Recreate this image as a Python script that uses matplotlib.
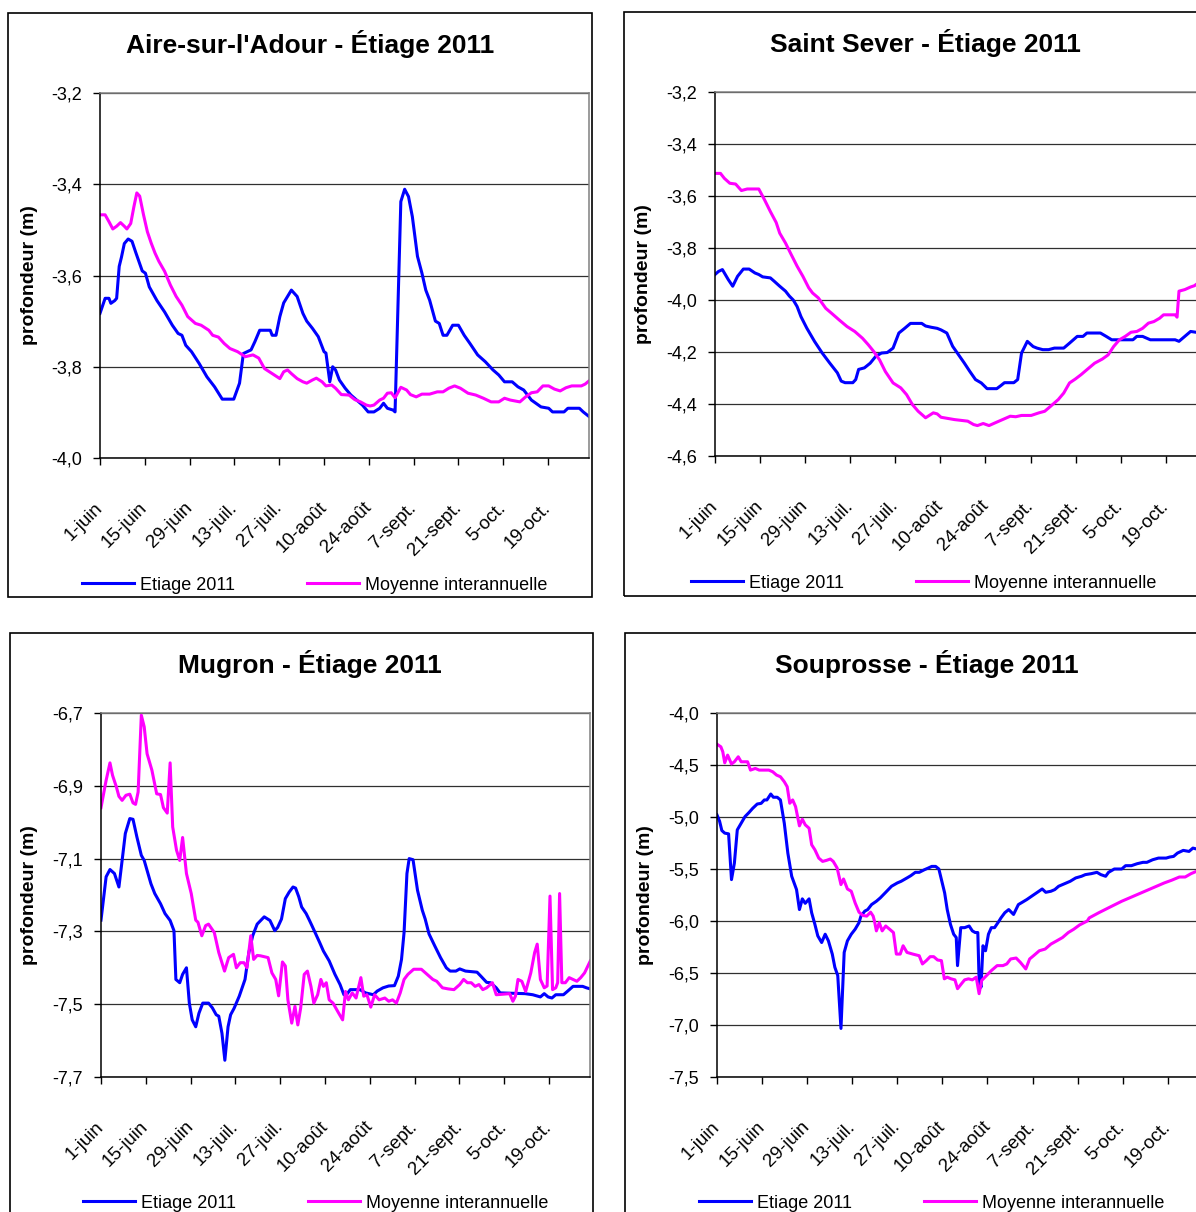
# Niveaux de nappe - étiage 2011, 4 piézomètres (style Excel)
import matplotlib
matplotlib.use('Agg')
import matplotlib.pyplot as plt
import matplotlib.transforms as mtransforms
from matplotlib.patches import Rectangle

plt.rcParams['font.family'] = ['Liberation Sans', 'DejaVu Sans']

# axe des x : jours depuis le 1er juin
tick_days = [0, 14, 28, 42, 56, 70, 84, 98, 112, 126, 140]
tick_labels = ['1-juin', '15-juin', '29-juin', '13-juil.', '27-juil.', '10-août',
               '24-août', '7-sept.', '21-sept.', '5-oct.', '19-oct.']

# --- Aire-sur-l'Adour ---
aire_ticks = [-4.0, -3.8, -3.6, -3.4, -3.2]
aire_ticklabels = ['-4,0', '-3,8', '-3,6', '-3,4', '-3,2']
aire_etiage = [(0, -3.683), (1.6, -3.65), (2.8, -3.65), (3.4, -3.661), (4.6, -3.655), (5.2, -3.65),
               (6.0, -3.58), (6.7, -3.56), (7.6, -3.53), (8.8, -3.52), (10.0, -3.525), (11.2, -3.55),
               (13.2, -3.59), (14.2, -3.595), (15.4, -3.625), (16.6, -3.64), (17.8, -3.655), (20.2, -3.68),
               (22.6, -3.709), (24.4, -3.727), (25.6, -3.731), (26.8, -3.753), (28.6, -3.767), (31.0, -3.793),
               (33.4, -3.822), (35.8, -3.844), (38.2, -3.871), (41.8, -3.871), (43.6, -3.836), (44.8, -3.771),
               (47.2, -3.763), (48.4, -3.745), (49.9, -3.72), (53.2, -3.72), (53.8, -3.731), (55.0, -3.731),
               (56.2, -3.69), (57.4, -3.66), (59.8, -3.632), (61.6, -3.646), (63.4, -3.683), (64.6, -3.70),
               (66.4, -3.716), (68.2, -3.734), (70.0, -3.767), (70.6, -3.77), (71.8, -3.833), (72.7, -3.80),
               (73.6, -3.807), (74.8, -3.829), (76.6, -3.847), (78.4, -3.862), (80.2, -3.873), (82.0, -3.884),
               (83.8, -3.899), (85.6, -3.899), (87.4, -3.891), (88.6, -3.88), (89.8, -3.891), (91.6, -3.895),
               (92.2, -3.899), (94.0, -3.438), (95.2, -3.411), (96.4, -3.427), (97.6, -3.471), (99.2, -3.558),
               (100.6, -3.595), (101.8, -3.632), (103.0, -3.654), (104.8, -3.70), (106.0, -3.705),
               (107.2, -3.731), (108.4, -3.731), (110.2, -3.709), (112.0, -3.709), (113.8, -3.731),
               (115.6, -3.749), (118.0, -3.774), (120.4, -3.789), (122.8, -3.807), (124.6, -3.818),
               (126.4, -3.833), (128.8, -3.833), (130.6, -3.844), (132.4, -3.851), (134.8, -3.873),
               (137.8, -3.888), (140.2, -3.891), (141.4, -3.899), (145.0, -3.899), (146.2, -3.891),
               (149.8, -3.891), (151.0, -3.899), (152.8, -3.909)]
aire_moyenne = [(0, -3.467), (1.6, -3.467), (2.8, -3.482), (4.0, -3.498), (5.2, -3.492), (6.4, -3.484),
                (7.6, -3.492), (8.4, -3.498), (9.6, -3.486), (10.6, -3.449), (11.5, -3.419), (12.4, -3.426),
                (13.6, -3.467), (14.8, -3.504), (16.0, -3.529), (17.2, -3.551), (18.4, -3.569), (20.2, -3.591),
                (22.0, -3.621), (23.8, -3.646), (25.6, -3.665), (27.4, -3.69), (29.8, -3.705), (31.6, -3.709),
                (34.0, -3.72), (35.2, -3.731), (37.0, -3.735), (38.8, -3.749), (40.6, -3.76), (43.0, -3.767),
                (45.4, -3.778), (47.8, -3.774), (49.6, -3.781), (51.4, -3.804), (53.8, -3.815), (56.2, -3.826),
                (57.4, -3.811), (58.6, -3.807), (59.8, -3.815), (61.6, -3.826), (63.4, -3.833), (64.6, -3.836),
                (66.4, -3.829), (67.6, -3.825), (69.4, -3.833), (70.6, -3.842), (72.4, -3.84), (73.6, -3.847),
                (75.4, -3.861), (77.8, -3.862), (79.6, -3.872), (81.4, -3.877), (83.2, -3.884), (84.4, -3.886),
                (85.6, -3.884), (87.4, -3.873), (88.6, -3.869), (89.8, -3.858), (91.0, -3.857), (92.2, -3.868),
                (94.0, -3.845), (95.8, -3.851), (97.0, -3.861), (98.8, -3.866), (100.6, -3.86), (103.0, -3.86),
                (105.4, -3.855), (107.2, -3.855), (109.0, -3.847), (110.8, -3.842), (112.6, -3.847),
                (115.0, -3.858), (117.4, -3.862), (119.8, -3.869), (122.2, -3.877), (124.6, -3.877),
                (126.4, -3.869), (128.2, -3.873), (131.2, -3.877), (133.0, -3.866), (134.8, -3.857),
                (136.6, -3.855), (138.4, -3.842), (140.2, -3.842), (142.0, -3.849), (143.8, -3.853),
                (145.6, -3.846), (147.4, -3.842), (150.4, -3.842), (151.6, -3.838), (152.8, -3.831)]

# --- Saint Sever ---
sever_ticks = [-4.6, -4.4, -4.2, -4.0, -3.8, -3.6, -3.4, -3.2]
sever_ticklabels = ['-4,6', '-4,4', '-4,2', '-4,0', '-3,8', '-3,6', '-3,4', '-3,2']
sever_etiage = [(0, -3.902), (1.1, -3.89), (2.3, -3.883), (4.1, -3.921), (5.5, -3.947), (7.0, -3.909),
                (8.8, -3.881), (10.6, -3.881), (12.4, -3.896), (13.6, -3.902), (14.8, -3.911), (17.2, -3.915),
                (18.4, -3.928), (20.1, -3.947), (21.9, -3.966), (23.1, -3.985), (24.3, -4.0), (25.5, -4.025),
                (26.7, -4.064), (28.5, -4.108), (30.9, -4.159), (33.3, -4.204), (35.6, -4.242), (38.0, -4.28),
                (39.2, -4.312), (40.4, -4.318), (42.8, -4.318), (43.7, -4.306), (44.6, -4.267), (46.4, -4.261),
                (48.2, -4.243), (49.9, -4.217), (51.7, -4.204), (53.5, -4.202), (55.3, -4.185), (57.1, -4.127),
                (58.9, -4.109), (60.7, -4.09), (64.2, -4.09), (65.4, -4.1), (67.2, -4.105), (69.0, -4.109),
                (70.2, -4.115), (72.0, -4.127), (73.8, -4.178), (75.6, -4.21), (77.4, -4.242), (79.1, -4.274),
                (80.9, -4.306), (82.7, -4.319), (84.5, -4.341), (87.5, -4.341), (88.7, -4.33), (89.9, -4.318),
                (92.8, -4.318), (94.0, -4.306), (95.2, -4.204), (97.0, -4.159), (98.8, -4.179), (100.0, -4.185),
                (101.8, -4.191), (103.6, -4.191), (105.4, -4.185), (108.3, -4.185), (110.1, -4.166),
                (112.5, -4.14), (114.3, -4.14), (115.5, -4.127), (119.7, -4.127), (121.5, -4.14),
                (123.2, -4.153), (129.8, -4.153), (131.0, -4.14), (132.8, -4.14), (135.2, -4.153),
                (142.9, -4.153), (144.1, -4.159), (145.9, -4.14), (147.7, -4.121), (151.0, -4.127)]
sever_moyenne = [(0, -3.513), (1.7, -3.513), (2.9, -3.532), (4.6, -3.551), (6.4, -3.554), (8.2, -3.579),
                 (10.0, -3.573), (13.6, -3.573), (15.4, -3.615), (17.2, -3.66), (19.0, -3.702), (20.1, -3.743),
                 (21.9, -3.781), (23.7, -3.826), (25.5, -3.87), (27.3, -3.909), (29.1, -3.953), (30.3, -3.973),
                 (32.1, -3.992), (34.4, -4.032), (36.2, -4.051), (38.6, -4.077), (41.0, -4.102), (43.4, -4.121),
                 (45.8, -4.147), (47.6, -4.172), (49.3, -4.198), (51.1, -4.23), (52.9, -4.275), (55.3, -4.319),
                 (57.7, -4.338), (59.5, -4.364), (61.3, -4.402), (63.1, -4.428), (65.4, -4.453), (67.8, -4.434),
                 (69.0, -4.438), (70.2, -4.451), (74.4, -4.46), (78.5, -4.466), (80.3, -4.479), (81.5, -4.483),
                 (83.3, -4.475), (85.1, -4.483), (86.9, -4.473), (89.3, -4.46), (91.7, -4.447), (93.4, -4.449),
                 (95.2, -4.444), (98.2, -4.444), (100.6, -4.434), (102.4, -4.428), (104.2, -4.409),
                 (106.6, -4.383), (108.3, -4.358), (110.1, -4.319), (111.9, -4.304), (113.7, -4.287),
                 (115.5, -4.268), (117.9, -4.243), (120.3, -4.227), (122.1, -4.211), (123.8, -4.179),
                 (125.6, -4.153), (127.4, -4.14), (129.2, -4.124), (131.0, -4.121), (132.8, -4.109),
                 (134.6, -4.089), (136.3, -4.083), (138.1, -4.07), (139.3, -4.057), (142.9, -4.057),
                 (143.5, -4.066), (144.1, -3.966), (145.9, -3.96), (147.7, -3.95), (148.9, -3.945),
                 (150.1, -3.934), (151.0, -3.93)]

# --- Mugron ---
mugron_ticks = [-7.7, -7.5, -7.3, -7.1, -6.9, -6.7]
mugron_ticklabels = ['-7,7', '-7,5', '-7,3', '-7,1', '-6,9', '-6,7']
mugron_etiage = [(0, -7.269), (1.6, -7.15), (2.8, -7.13), (4.2, -7.141), (5.6, -7.178), (6.6, -7.105),
                 (7.6, -7.031), (9.0, -6.99), (10.0, -6.992), (11.2, -7.04), (12.6, -7.091), (13.5, -7.105),
                 (15.6, -7.169), (16.8, -7.196), (18.6, -7.224), (20.0, -7.251), (21.6, -7.27), (22.8, -7.298),
                 (23.4, -7.432), (24.6, -7.441), (25.5, -7.418), (26.7, -7.4), (27.6, -7.497), (28.5, -7.543),
                 (29.6, -7.562), (30.6, -7.525), (31.8, -7.497), (33.6, -7.497), (34.8, -7.51), (36.0, -7.529),
                 (36.8, -7.533), (37.8, -7.58), (38.7, -7.654), (39.7, -7.562), (40.5, -7.529), (41.6, -7.511),
                 (43.2, -7.478), (45.0, -7.432), (46.2, -7.358), (47.4, -7.312), (48.8, -7.28), (51.0, -7.26),
                 (51.9, -7.265), (52.8, -7.27), (54.3, -7.298), (55.2, -7.289), (56.4, -7.266), (57.6, -7.21),
                 (58.8, -7.192), (60.0, -7.178), (60.8, -7.181), (61.8, -7.205), (62.7, -7.233), (64.1, -7.251),
                 (65.1, -7.269), (65.9, -7.284), (67.1, -7.307), (68.3, -7.33), (69.5, -7.354), (71.3, -7.381),
                 (73.1, -7.418), (74.7, -7.446), (75.9, -7.474), (76.7, -7.474), (77.9, -7.46), (80.9, -7.46),
                 (82.7, -7.469), (85.1, -7.474), (86.3, -7.464), (88.1, -7.455), (89.9, -7.45), (91.7, -7.449),
                 (92.9, -7.423), (93.9, -7.377), (94.7, -7.303), (95.6, -7.141), (96.3, -7.1), (97.5, -7.103),
                 (98.9, -7.187), (100.4, -7.242), (101.3, -7.266), (102.5, -7.307), (104.3, -7.34),
                 (106.1, -7.372), (107.9, -7.4), (109.1, -7.409), (110.9, -7.409), (112.1, -7.403),
                 (113.9, -7.409), (117.5, -7.412), (118.7, -7.423), (120.5, -7.44), (121.7, -7.441),
                 (123.5, -7.455), (124.7, -7.469), (132.5, -7.471), (134.9, -7.474), (137.3, -7.48),
                 (138.5, -7.471), (139.7, -7.48), (140.9, -7.483), (142.1, -7.474), (144.5, -7.474),
                 (145.7, -7.465), (147.5, -7.451), (150.5, -7.451), (151.7, -7.455), (152.9, -7.458)]
mugron_moyenne = [(0, -6.96), (1.6, -6.885), (2.8, -6.837), (3.6, -6.871), (4.8, -6.903), (5.6, -6.929),
                  (6.6, -6.94), (7.8, -6.926), (9.0, -6.923), (10.0, -6.947), (10.8, -6.951), (11.6, -6.917),
                  (12.6, -6.706), (13.5, -6.738), (14.4, -6.812), (15.9, -6.857), (17.4, -6.922), (18.6, -6.924),
                  (19.5, -6.96), (20.7, -6.975), (21.6, -6.837), (22.4, -7.013), (23.6, -7.077), (24.6, -7.105),
                  (25.5, -7.042), (26.7, -7.141), (28.2, -7.196), (29.6, -7.269), (30.3, -7.275), (31.5, -7.312),
                  (32.7, -7.284), (33.6, -7.28), (35.4, -7.303), (36.8, -7.358), (38.6, -7.409), (39.9, -7.372),
                  (41.4, -7.363), (42.3, -7.4), (43.5, -7.386), (44.7, -7.386), (45.6, -7.4), (46.8, -7.312),
                  (47.7, -7.377), (48.8, -7.366), (49.8, -7.367), (52.2, -7.372), (53.4, -7.414), (54.6, -7.432),
                  (55.5, -7.477), (56.7, -7.384), (57.6, -7.395), (58.4, -7.488), (59.6, -7.552), (60.6, -7.506),
                  (61.5, -7.557), (62.4, -7.51), (63.5, -7.418), (64.5, -7.409), (65.6, -7.451), (66.5, -7.497),
                  (67.7, -7.474), (68.7, -7.432), (69.5, -7.451), (70.4, -7.441), (71.3, -7.488), (72.5, -7.497),
                  (74.3, -7.525), (75.5, -7.543), (76.4, -7.465), (77.3, -7.488), (78.5, -7.469), (79.7, -7.483),
                  (80.3, -7.46), (81.2, -7.427), (82.1, -7.478), (83.1, -7.474), (84.3, -7.508), (85.5, -7.474),
                  (86.9, -7.488), (88.7, -7.483), (89.9, -7.492), (91.1, -7.488), (92.3, -7.497), (93.5, -7.469),
                  (94.7, -7.432), (95.9, -7.418), (97.7, -7.404), (100.1, -7.404), (101.9, -7.418),
                  (103.7, -7.432), (104.9, -7.437), (106.7, -7.455), (108.5, -7.458), (110.3, -7.46),
                  (112.1, -7.446), (113.3, -7.432), (114.5, -7.441), (115.7, -7.441), (116.9, -7.451),
                  (118.1, -7.446), (119.3, -7.46), (120.5, -7.455), (122.3, -7.441), (123.5, -7.474),
                  (127.7, -7.471), (128.7, -7.492), (129.5, -7.478), (130.3, -7.432), (131.5, -7.437),
                  (132.7, -7.465), (134.3, -7.414), (135.5, -7.358), (136.3, -7.335), (137.3, -7.432),
                  (138.5, -7.455), (139.4, -7.45), (140.3, -7.203), (141.1, -7.46), (142.1, -7.455),
                  (142.7, -7.441), (143.3, -7.196), (144.0, -7.441), (145.1, -7.441), (146.3, -7.427),
                  (147.5, -7.432), (148.7, -7.437), (149.9, -7.427), (151.1, -7.414), (152.9, -7.381)]

# --- Souprosse ---
soup_ticks = [-7.5, -7.0, -6.5, -6.0, -5.5, -5.0, -4.5, -4.0]
soup_ticklabels = ['-7,5', '-7,0', '-6,5', '-6,0', '-5,5', '-5,0', '-4,5', '-4,0']
soup_etiage = [(0, -4.98), (0.8, -5.04), (1.5, -5.13), (2.4, -5.155), (3.6, -5.162), (4.5, -5.602),
               (5.4, -5.443), (6.3, -5.124), (7.5, -5.06), (8.7, -4.996), (9.9, -4.958), (11.1, -4.916),
               (12.5, -4.875), (13.7, -4.869), (14.7, -4.836), (15.5, -4.836), (16.7, -4.779), (17.5, -4.81),
               (18.7, -4.81), (19.7, -4.836), (20.9, -5.06), (22.0, -5.347), (23.2, -5.57), (24.7, -5.698),
               (25.6, -5.89), (26.5, -5.787), (27.4, -5.83), (28.6, -5.787), (29.4, -5.921), (30.4, -6.032),
               (31.3, -6.143), (32.5, -6.207), (33.6, -6.127), (34.6, -6.191), (35.8, -6.318), (36.6, -6.445),
               (37.5, -6.524), (38.5, -7.033), (39.5, -6.302), (40.5, -6.191), (41.7, -6.127), (42.9, -6.079),
               (44.1, -6.016), (44.7, -5.953), (45.9, -5.905), (46.8, -5.89), (48.0, -5.842), (49.5, -5.81),
               (50.7, -5.778), (52.4, -5.724), (54.2, -5.666), (56.0, -5.634), (57.2, -5.618), (59.0, -5.586),
               (60.2, -5.564), (61.6, -5.532), (62.8, -5.532), (64.4, -5.507), (65.6, -5.491), (66.7, -5.475),
               (67.9, -5.475), (68.9, -5.5), (69.7, -5.602), (70.7, -5.73), (71.5, -5.89), (72.5, -6.032),
               (73.5, -6.127), (74.3, -6.159), (74.7, -6.429), (75.7, -6.064), (76.9, -6.064), (78.3, -6.048),
               (79.3, -6.095), (80.2, -6.111), (81.0, -6.111), (81.4, -6.572), (82.0, -6.636), (82.6, -6.238),
               (83.4, -6.286), (84.3, -6.127), (85.2, -6.064), (86.2, -6.064), (87.6, -6.0), (88.2, -5.97),
               (89.4, -5.92), (90.6, -5.89), (92.1, -5.937), (93.6, -5.842), (94.8, -5.82), (96.2, -5.794),
               (97.7, -5.762), (99.5, -5.724), (101.0, -5.692), (102.1, -5.724), (103.7, -5.714),
               (104.9, -5.698), (106.1, -5.666), (107.3, -5.65), (108.5, -5.634), (109.7, -5.618),
               (111.4, -5.586), (113.2, -5.57), (114.4, -5.554), (116.2, -5.545), (118.0, -5.532),
               (119.2, -5.554), (120.7, -5.57), (121.6, -5.532), (123.4, -5.5), (125.7, -5.5), (126.9, -5.468),
               (128.7, -5.468), (130.5, -5.449), (132.3, -5.436), (133.5, -5.436), (135.3, -5.411),
               (137.1, -5.395), (139.5, -5.395), (140.6, -5.385), (141.8, -5.379), (143.0, -5.347),
               (144.8, -5.321), (146.6, -5.331), (147.8, -5.299), (149.0, -5.308), (150.2, -5.331)]
soup_moyenne = [(0, -4.3), (1.2, -4.325), (1.8, -4.373), (2.4, -4.479), (3.3, -4.405), (4.5, -4.49),
                (5.4, -4.469), (6.6, -4.421), (7.5, -4.469), (9.5, -4.469), (10.4, -4.549), (11.9, -4.533),
                (13.1, -4.549), (16.1, -4.549), (17.3, -4.565), (18.5, -4.597), (19.7, -4.613), (20.9, -4.661),
                (21.8, -4.709), (22.6, -4.868), (23.5, -4.836), (24.4, -4.9), (25.6, -5.085), (26.5, -5.021),
                (27.4, -5.075), (28.6, -5.108), (29.4, -5.267), (30.4, -5.315), (31.6, -5.395), (32.8, -5.427),
                (34.0, -5.417), (35.2, -5.404), (36.1, -5.427), (37.3, -5.49), (38.5, -5.65), (39.3, -5.596),
                (40.5, -5.692), (41.7, -5.714), (42.9, -5.826), (44.1, -5.915), (45.3, -5.947), (46.5, -5.953),
                (47.7, -5.915), (48.5, -5.953), (48.9, -6.0), (49.5, -6.095), (50.4, -6.016), (51.3, -6.095),
                (52.4, -6.048), (53.6, -6.079), (54.8, -6.111), (55.7, -6.318), (56.9, -6.318), (57.8, -6.238),
                (59.0, -6.302), (60.8, -6.318), (62.8, -6.334), (63.8, -6.413), (65.0, -6.381), (66.2, -6.343),
                (67.3, -6.343), (68.5, -6.375), (69.7, -6.381), (70.6, -6.556), (71.5, -6.54), (72.7, -6.556),
                (73.9, -6.566), (74.7, -6.651), (75.9, -6.604), (76.9, -6.566), (78.1, -6.556), (79.3, -6.566),
                (80.5, -6.54), (81.4, -6.699), (82.2, -6.572), (83.4, -6.534), (85.2, -6.477), (87.0, -6.429),
                (88.8, -6.429), (90.0, -6.413), (91.2, -6.365), (92.9, -6.356), (94.2, -6.397), (95.9, -6.461),
                (97.1, -6.365), (98.3, -6.334), (100.1, -6.286), (101.9, -6.27), (103.7, -6.222),
                (105.5, -6.191), (107.3, -6.159), (109.1, -6.111), (110.8, -6.079), (112.6, -6.038),
                (115.0, -6.0), (115.6, -5.97), (118.6, -5.92), (122.2, -5.864), (125.7, -5.81), (129.3, -5.762),
                (132.9, -5.714), (136.5, -5.666), (138.9, -5.634), (141.2, -5.608), (143.6, -5.577),
                (145.4, -5.577), (147.2, -5.545), (149.6, -5.513)]

W, H = 1196, 1212
BLUE = '#0000FF'
MAGENTA = '#FF00FF'

fig = plt.figure(figsize=(W / 100, H / 100), dpi=100)


def fx(x):
    return x / W


def fy(y):
    return 1 - y / H


# (titre, x titre, y ligne de base, cadre, zone de tracé, y lim, ticks, labels, x label y, x legende, y legende, series)
panels = [
    ("Aire-sur-l'Adour - Étiage 2011", 310, 53, (8, 13, 592, 597), (100, 93, 589, 458),
     (-4.0, -3.2), aire_ticks, aire_ticklabels, 38, 82, 585, aire_etiage, aire_moyenne),
    ("Saint Sever - Étiage 2011", 925, 52, (624, 12, 1230, 596), (715, 92, 1207, 456),
     (-4.6, -3.2), sever_ticks, sever_ticklabels, 652, 691, 583, sever_etiage, sever_moyenne),
    ("Mugron - Étiage 2011", 310, 673, (10, 633, 593, 1240), (101, 713, 590, 1077),
     (-7.7, -6.7), mugron_ticks, mugron_ticklabels, 38, 83, 1203, mugron_etiage, mugron_moyenne),
    ("Souprosse - Étiage 2011", 927, 673, (625, 633, 1230, 1240), (717, 713, 1209, 1077),
     (-7.5, -4.0), soup_ticks, soup_ticklabels, 654, 699, 1203, soup_etiage, soup_moyenne),
]

# petit décalage à gauche des étiquettes de dates
shift = mtransforms.ScaledTranslation(-4 / 100, 0, fig.dpi_scale_trans)

for (title, tx, ty, box, area, ylim, yt, ytl, ylx, legx, legy, etiage, moyenne) in panels:
    # cadre du graphique
    bl, bt, br, bb = box
    fig.add_artist(Rectangle((fx(bl), fy(bb)), fx(br - bl), (bb - bt) / H,
                             transform=fig.transFigure, fill=False, ec='black', lw=1.2))
    fig.text(fx(tx), fy(ty), title, ha='center', va='baseline', fontsize=19, fontweight='bold')

    l, t, r, b = area
    ax = fig.add_axes([fx(l), fy(b), fx(r - l), (b - t) / H])
    ax.plot([p[0] for p in etiage], [p[1] for p in etiage], color=BLUE, lw=2.2, label='Etiage 2011')
    ax.plot([p[0] for p in moyenne], [p[1] for p in moyenne], color=MAGENTA, lw=2.2,
            label='Moyenne interannuelle')

    ax.set_xlim(0, 152.8)
    ax.set_ylim(*ylim)
    ax.set_yticks(yt)
    ax.set_yticklabels(ytl)
    ax.set_xticks(tick_days)
    ax.set_xticklabels(tick_labels, rotation=45, ha='right', va='center', rotation_mode='anchor')
    for lab in ax.get_xticklabels():
        lab.set_transform(lab.get_transform() + shift)
    ax.tick_params(axis='y', direction='out', length=5, width=1, pad=8, labelsize=13)
    ax.tick_params(axis='x', direction='out', length=5, width=1, pad=29, labelsize=13.5)
    ax.yaxis.grid(True, color='#303030', lw=0.9)
    ax.set_axisbelow(True)
    for s in ['left', 'bottom']:
        ax.spines[s].set_color('black')
        ax.spines[s].set_linewidth(1.1)
    for s in ['top', 'right']:
        ax.spines[s].set_color('#808080')
        ax.spines[s].set_linewidth(1.1)

    ax.set_ylabel('profondeur (m)', fontsize=14, fontweight='bold')
    ax.yaxis.set_label_coords(fx(ylx), fy((t + b) / 2), transform=fig.transFigure)

    ax.legend(loc='center left', bbox_to_anchor=(fx(legx), fy(legy)), bbox_transform=fig.transFigure,
              ncol=2, frameon=False, fontsize=13, handlelength=2.9, handletextpad=0.3,
              columnspacing=4.0, borderpad=0, borderaxespad=0)

fig.savefig('out.png', dpi=100)
